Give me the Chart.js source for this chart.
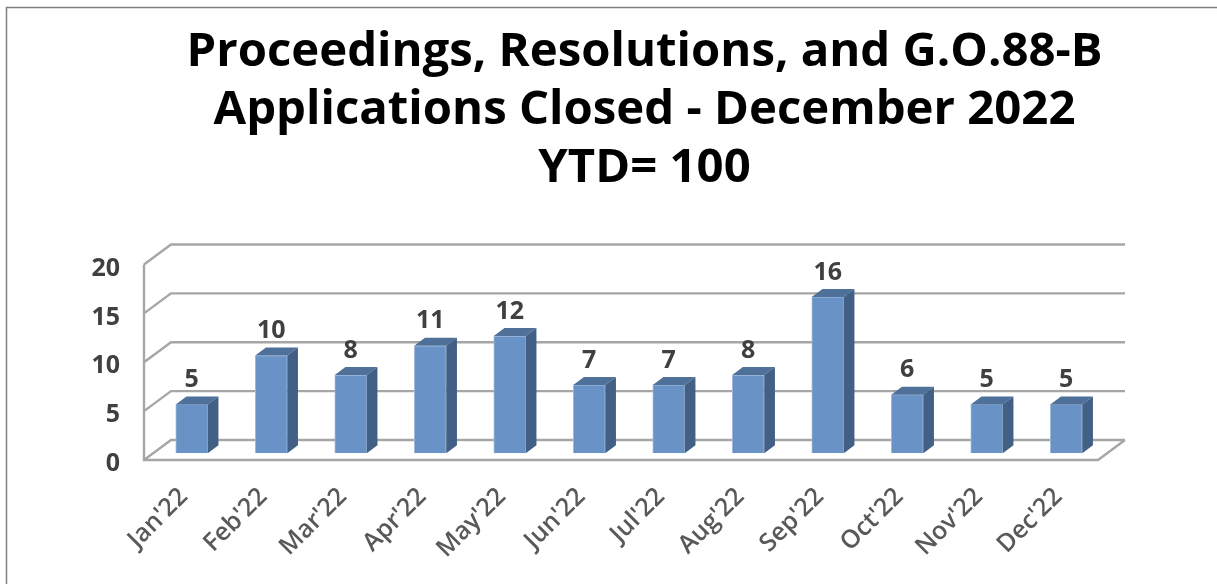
<!DOCTYPE html>
<html>
<head>
<meta charset="utf-8">
<script src="https://cdn.jsdelivr.net/npm/chart.js@4"></script>
<style>
  html, body { margin: 0; padding: 0; background: #fff; overflow: hidden; }
  canvas { display: block; }
</style>
</head>
<body>
<canvas id="chart" width="1217" height="584"></canvas>
<script>
const titleLines = ['Proceedings, Resolutions, and G.O.88-B', 'Applications Closed - December 2022', 'YTD= 100'];
const months = ["Jan'22", "Feb'22", "Mar'22", "Apr'22", "May'22", "Jun'22", "Jul'22", "Aug'22", "Sep'22", "Oct'22", "Nov'22", "Dec'22"];
const closed = [5, 10, 8, 11, 12, 7, 7, 8, 16, 6, 5, 5];
const yTicks = [0, 5, 10, 15, 20];

const FONT = '"Open Sans", sans-serif';
// depth of the fake 3d box
const wallDx = 27, wallDy = -20;
const barShiftX = 8, barShiftY = -6.7;
const sideDx = 10.7, sideDy = -8;

const fake3d = {
  id: 'fake3d',
  afterLayout(chart) {
    // title sits right of the plot centre in the original
    chart.titleBlock.left += 95.5;
    chart.titleBlock.right += 95.5;
  },
  beforeDraw(chart) {
    const ctx = chart.ctx;
    ctx.save();
    ctx.strokeStyle = '#7f7f7f';
    ctx.lineWidth = 1.5;
    ctx.beginPath();
    ctx.moveTo(6.5, chart.height);
    ctx.lineTo(6.5, 7.5);
    ctx.lineTo(chart.width, 7.5);
    ctx.stroke();
    ctx.restore();
  },
  beforeDatasetsDraw(chart) {
    const { ctx, chartArea: a, scales: { y } } = chart;
    ctx.save();
    ctx.strokeStyle = '#a6a6a6';
    ctx.lineWidth = 2.4;
    ctx.beginPath();
    yTicks.forEach(v => {
      const py = y.getPixelForValue(v);
      ctx.moveTo(a.left, py);
      ctx.lineTo(a.left + wallDx, py + wallDy);
      ctx.lineTo(a.right + wallDx, py + wallDy);
    });
    ctx.moveTo(a.left, y.getPixelForValue(20));
    ctx.lineTo(a.left, a.bottom);
    ctx.lineTo(a.right, a.bottom);
    ctx.lineTo(a.right + wallDx, a.bottom + wallDy);
    ctx.stroke();
    ctx.restore();
  },
  beforeDatasetDraw(chart) {
    chart.ctx.save();
    chart.ctx.translate(barShiftX, barShiftY);
  },
  afterDatasetDraw(chart, args) {
    const ctx = chart.ctx;
    args.meta.data.forEach(bar => {
      const half = bar.width / 2;
      const l = bar.x - half, r = bar.x + half;
      // top face
      ctx.fillStyle = '#4f7199';
      ctx.beginPath();
      ctx.moveTo(l, bar.y);
      ctx.lineTo(l + sideDx, bar.y + sideDy);
      ctx.lineTo(r + sideDx, bar.y + sideDy);
      ctx.lineTo(r, bar.y);
      ctx.closePath();
      ctx.fill();
      // side face
      ctx.fillStyle = '#426085';
      ctx.beginPath();
      ctx.moveTo(r, bar.y);
      ctx.lineTo(r + sideDx, bar.y + sideDy);
      ctx.lineTo(r + sideDx, bar.base + sideDy);
      ctx.lineTo(r, bar.base);
      ctx.closePath();
      ctx.fill();
    });
    ctx.restore();
  },
  afterDatasetsDraw(chart) {
    const ctx = chart.ctx;
    const meta = chart.getDatasetMeta(0);
    ctx.save();
    ctx.font = 'bold 25px ' + FONT;
    ctx.fillStyle = '#404040';
    ctx.textAlign = 'center';
    ctx.textBaseline = 'middle';
    meta.data.forEach((bar, i) => {
      ctx.fillText(closed[i], bar.x + barShiftX, bar.y + barShiftY - 24.5);
    });
    ctx.restore();
  }
};

new Chart(document.getElementById('chart'), {
  type: 'bar',
  data: {
    labels: months,
    datasets: [{
      data: closed,
      backgroundColor: '#6993c7',
      borderColor: '#a3bcdb',
      borderWidth: 1,
      barThickness: 32
    }]
  },
  options: {
    responsive: false,
    animation: false,
    layout: { padding: { right: 119 } },
    plugins: {
      legend: { display: false },
      tooltip: { enabled: false },
      title: {
        display: true,
        text: titleLines,
        color: '#000',
        font: { family: FONT, size: 47.3, weight: 'bold', lineHeight: 58 / 47.3 },
        padding: { top: 23.5, bottom: 67 }
      }
    },
    scales: {
      x: {
        grid: { display: false },
        border: { display: false },
        afterFit(scale) { scale.height = 124; },
        ticks: {
          minRotation: 45,
          maxRotation: 45,
          padding: 14,
          color: '#595959',
          font: { family: FONT, size: 25, weight: '600' }
        }
      },
      y: {
        min: 0,
        max: 20,
        afterFit(scale) { scale.width = 144; },
        grid: { display: false },
        border: { display: false },
        ticks: {
          stepSize: 5,
          padding: 16,
          labelOffset: 4,
          color: '#404040',
          font: { family: FONT, size: 25, weight: 'bold' }
        }
      }
    }
  },
  plugins: [fake3d]
});
</script>
</body>
</html>
